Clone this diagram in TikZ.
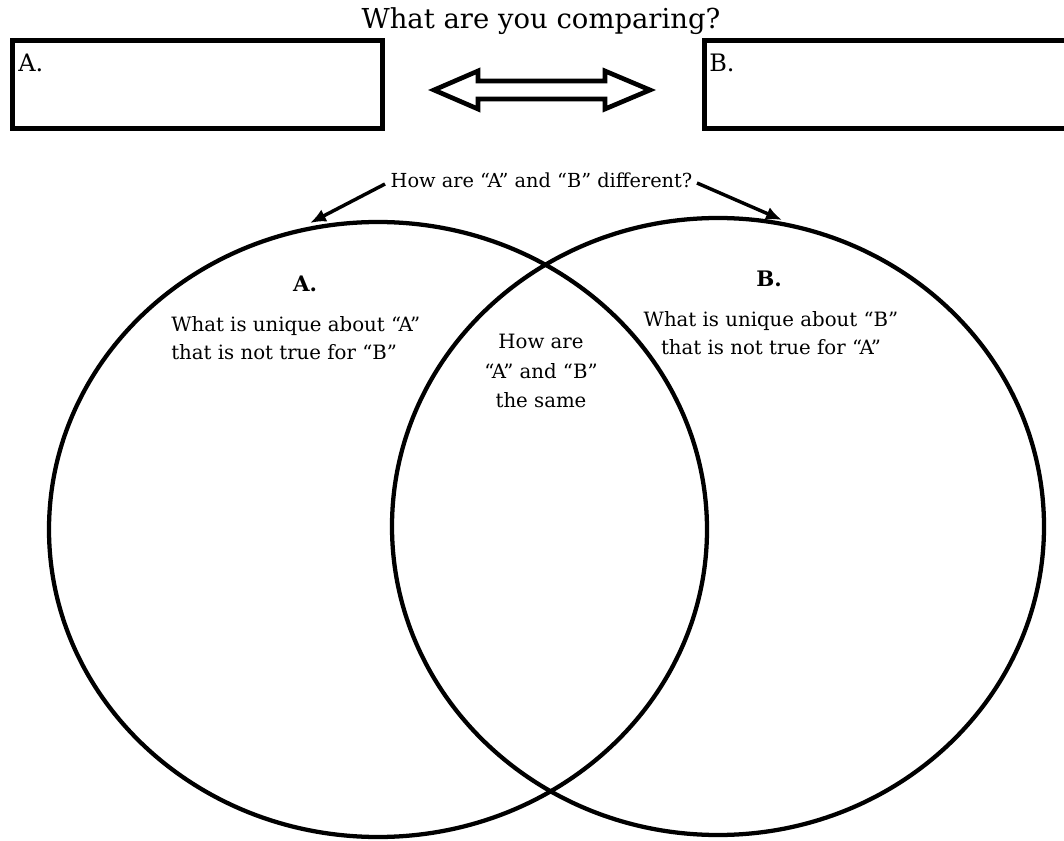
\documentclass[tikz,border=0pt]{standalone}
\usepackage{fontspec}
\setmainfont{DejaVu Serif}
\usetikzlibrary{arrows.meta}
\begin{document}
\begin{tikzpicture}[x=0.75pt,y=-0.75pt,
  frame/.style={draw, line width=3.5pt, inner sep=0pt},
  ring/.style={draw, line width=3.2pt},
  txt/.style={inner sep=0pt, font=\fontsize{14.8}{17}\selectfont},
  boxlbl/.style={inner sep=0pt, anchor=base west, font=\fontsize{18}{21}\selectfont},
  head/.style={inner sep=0pt, anchor=base, font=\bfseries\fontsize{16}{19}\selectfont},
  pointer/.style={line width=2.6pt, -{Latex[length=12pt,width=10pt]}}]
\clip (0,0) rectangle (1064,841);
\fill[white] (0,0) rectangle (1064,841);

% title
\node[inner sep=0pt, anchor=base, font=\fontsize{20.6}{24}\selectfont] (title) at (541,29) {What are you comparing?};

% boxes
\node[frame, anchor=north west, minimum width=277.5pt, minimum height=66pt] (boxA) at (10,38) {};
\node[frame, anchor=north west, minimum width=300pt, minimum height=66pt] (boxB) at (702,38) {};
\node[boxlbl] (labA) at (18,72) {A.};
\node[boxlbl] (labB) at (709,72) {B.};

% double arrow
\draw[line width=3.5pt, line join=miter] (434,90) -- (478,71) -- (478,81) -- (605,81) -- (605,71) -- (650,90)
  -- (605,109) -- (605,99) -- (478,99) -- (478,109) -- cycle;

% difference question and pointers
\node[txt, anchor=base, font=\fontsize{14.5}{17}\selectfont] (diff) at (541.5,188) {How are “A” and “B” different?};
\coordinate (dl) at (385,184);
\coordinate (dr) at (697,183);
\coordinate (al) at (310,223);
\coordinate (ar) at (782,220);
\draw[pointer] (dl) -- (al);
\draw[pointer] (dr) -- (ar);

% circles
\draw[ring] (378,529.5) ellipse [x radius=329, y radius=307.5];
\draw[ring] (718,526.5) ellipse [x radius=326, y radius=308.5];

% headings
\node[head] (hA) at (305,292) {A.};
\node[head] (hB) at (769,287) {B.};

% left text
\node[txt, anchor=base west] (a1) at (171,332) {What is unique about “A”};
\node[txt, anchor=base west] (a2) at (171,360) {that is not true for “B”};

% right text
\node[txt, anchor=base] (b1) at (771,327) {What is unique about “B”};
\node[txt, anchor=base] (b2) at (771,355) {that is not true for “A”};

% middle text
\node[txt, anchor=base] (m1) at (541,349) {How are};
\node[txt, anchor=base] (m2) at (541,379) {“A” and “B”};
\node[txt, anchor=base] (m3) at (541,408) {the same};
\end{tikzpicture}
\end{document}
